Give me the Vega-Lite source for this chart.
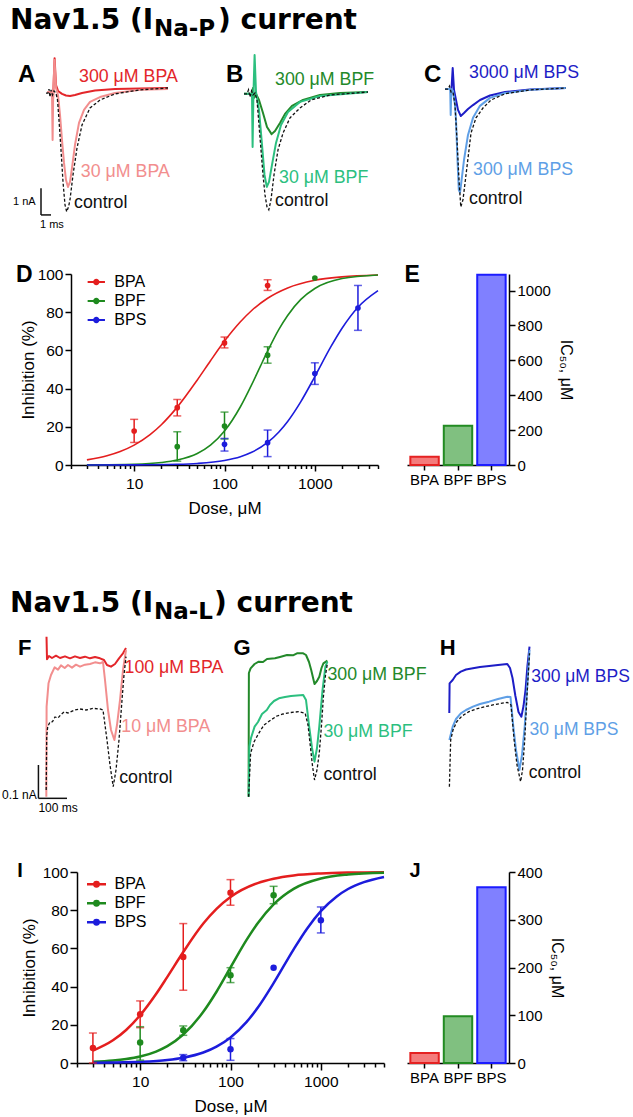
{
"$schema": "https://vega.github.io/schema/vega-lite/v6.json",
"padding": 0,
"background": "white",
"autosize": {"type": "pad"},
"bounds": "flush",
"spacing": 0,
"center": false,
"resolve": {"scale": {"color": "independent", "fill": "independent", "stroke": "independent"}},
"config": {
  "view": {"stroke": null},
  "font": "Liberation Sans",
  "text": {"font": "Liberation Sans"},
  "axis": {"domainColor": "#000", "tickColor": "#000", "labelColor": "#000", "titleColor": "#000", "labelFont": "Liberation Sans", "titleFont": "Liberation Sans", "titleFontWeight": "normal", "grid": false, "domainWidth": 1.5, "tickWidth": 1.5, "labelFontSize": 15.5, "titleFontSize": 17},
  "legend": {"labelFont": "Liberation Sans"}
},
"datasets": {
  "tr": [
    {"p":"A","s":"300 μM BPA","t":0.6,"i":-0.15},{"p":"A","s":"300 μM BPA","t":1.13,"i":-0.15},{"p":"A","s":"300 μM BPA","t":1.2,"i":-0.45},{"p":"A","s":"300 μM BPA","t":1.36,"i":1.12},{"p":"A","s":"300 μM BPA","t":1.5,"i":0.11},{"p":"A","s":"300 μM BPA","t":1.7,"i":-0.11},{"p":"A","s":"300 μM BPA","t":2.1,"i":-0.22},{"p":"A","s":"300 μM BPA","t":2.5,"i":-0.28},{"p":"A","s":"300 μM BPA","t":2.9,"i":-0.30},{"p":"A","s":"300 μM BPA","t":3.4,"i":-0.26},{"p":"A","s":"300 μM BPA","t":4.1,"i":-0.19},{"p":"A","s":"300 μM BPA","t":5.4,"i":-0.09},{"p":"A","s":"300 μM BPA","t":7.4,"i":-0.04},{"p":"A","s":"300 μM BPA","t":9.9,"i":-0.02},{"p":"A","s":"300 μM BPA","t":12.7,"i":0},
    {"p":"A","s":"30 μM BPA","t":0.6,"i":-0.15},{"p":"A","s":"30 μM BPA","t":1.1,"i":-0.15},{"p":"A","s":"30 μM BPA","t":1.16,"i":-1.95},{"p":"A","s":"30 μM BPA","t":1.22,"i":-0.22},{"p":"A","s":"30 μM BPA","t":1.35,"i":1.05},{"p":"A","s":"30 μM BPA","t":1.5,"i":0},{"p":"A","s":"30 μM BPA","t":1.7,"i":-0.26},{"p":"A","s":"30 μM BPA","t":1.9,"i":-1.01},{"p":"A","s":"30 μM BPA","t":2.1,"i":-1.95},{"p":"A","s":"30 μM BPA","t":2.3,"i":-2.81},{"p":"A","s":"30 μM BPA","t":2.5,"i":-3.45},{"p":"A","s":"30 μM BPA","t":2.7,"i":-3.71},{"p":"A","s":"30 μM BPA","t":2.9,"i":-3.52},{"p":"A","s":"30 μM BPA","t":3.1,"i":-3.0},{"p":"A","s":"30 μM BPA","t":3.4,"i":-2.13},{"p":"A","s":"30 μM BPA","t":3.8,"i":-1.31},{"p":"A","s":"30 μM BPA","t":4.3,"i":-0.82},{"p":"A","s":"30 μM BPA","t":4.9,"i":-0.52},{"p":"A","s":"30 μM BPA","t":5.9,"i":-0.34},{"p":"A","s":"30 μM BPA","t":7.4,"i":-0.19},{"p":"A","s":"30 μM BPA","t":9.9,"i":-0.07},{"p":"A","s":"30 μM BPA","t":12.7,"i":-0.04},
    {"p":"A","s":"control","t":0.5,"i":-0.19},{"p":"A","s":"control","t":0.7,"i":-0.19},{"p":"A","s":"control","t":0.8,"i":-0.04},{"p":"A","s":"control","t":0.9,"i":-0.34},{"p":"A","s":"control","t":1.0,"i":-0.07},{"p":"A","s":"control","t":1.15,"i":-0.26},{"p":"A","s":"control","t":1.3,"i":-0.11},{"p":"A","s":"control","t":1.5,"i":-0.19},{"p":"A","s":"control","t":1.65,"i":-0.45},{"p":"A","s":"control","t":1.8,"i":-1.2},{"p":"A","s":"control","t":2.0,"i":-2.32},{"p":"A","s":"control","t":2.2,"i":-3.52},{"p":"A","s":"control","t":2.4,"i":-4.38},{"p":"A","s":"control","t":2.57,"i":-4.64},{"p":"A","s":"control","t":2.75,"i":-4.46},{"p":"A","s":"control","t":2.9,"i":-4.19},{"p":"A","s":"control","t":3.2,"i":-3.26},{"p":"A","s":"control","t":3.6,"i":-2.25},{"p":"A","s":"control","t":4.1,"i":-1.39},{"p":"A","s":"control","t":4.9,"i":-0.75},{"p":"A","s":"control","t":5.9,"i":-0.45},{"p":"A","s":"control","t":7.4,"i":-0.22},{"p":"A","s":"control","t":9.9,"i":-0.07},{"p":"A","s":"control","t":12.7,"i":0},
    {"p":"B","s":"300 μM BPF","t":-0.7,"i":-0.22},{"p":"B","s":"300 μM BPF","t":0.1,"i":-0.22},{"p":"B","s":"300 μM BPF","t":0.2,"i":0},{"p":"B","s":"300 μM BPF","t":0.3,"i":-0.37},{"p":"B","s":"300 μM BPF","t":0.5,"i":-0.22},{"p":"B","s":"300 μM BPF","t":0.8,"i":-0.45},{"p":"B","s":"300 μM BPF","t":1.2,"i":-0.94},{"p":"B","s":"300 μM BPF","t":1.6,"i":-1.46},{"p":"B","s":"300 μM BPF","t":2.06,"i":-1.73},{"p":"B","s":"300 μM BPF","t":2.4,"i":-1.61},{"p":"B","s":"300 μM BPF","t":2.9,"i":-1.31},{"p":"B","s":"300 μM BPF","t":3.4,"i":-0.97},{"p":"B","s":"300 μM BPF","t":4.1,"i":-0.67},{"p":"B","s":"300 μM BPF","t":5.2,"i":-0.45},{"p":"B","s":"300 μM BPF","t":6.9,"i":-0.26},{"p":"B","s":"300 μM BPF","t":8.9,"i":-0.19},{"p":"B","s":"300 μM BPF","t":11.7,"i":-0.15},
    {"p":"B","s":"30 μM BPF","t":-0.7,"i":-0.22},{"p":"B","s":"30 μM BPF","t":0.1,"i":-0.22},{"p":"B","s":"30 μM BPF","t":0.16,"i":-2.21},{"p":"B","s":"30 μM BPF","t":0.24,"i":-0.26},{"p":"B","s":"30 μM BPF","t":0.36,"i":1.24},{"p":"B","s":"30 μM BPF","t":0.5,"i":-0.15},{"p":"B","s":"30 μM BPF","t":0.8,"i":-0.82},{"p":"B","s":"30 μM BPF","t":1.1,"i":-2.13},{"p":"B","s":"30 μM BPF","t":1.35,"i":-3.26},{"p":"B","s":"30 μM BPF","t":1.58,"i":-3.71},{"p":"B","s":"30 μM BPF","t":1.8,"i":-3.52},{"p":"B","s":"30 μM BPF","t":2.1,"i":-2.88},{"p":"B","s":"30 μM BPF","t":2.5,"i":-2.06},{"p":"B","s":"30 μM BPF","t":3.0,"i":-1.39},{"p":"B","s":"30 μM BPF","t":3.7,"i":-0.9},{"p":"B","s":"30 μM BPF","t":4.9,"i":-0.52},{"p":"B","s":"30 μM BPF","t":6.9,"i":-0.3},{"p":"B","s":"30 μM BPF","t":11.7,"i":-0.15},
    {"p":"B","s":"control","t":-0.7,"i":-0.22},{"p":"B","s":"control","t":-0.4,"i":-0.22},{"p":"B","s":"control","t":-0.25,"i":-0.07},{"p":"B","s":"control","t":-0.1,"i":-0.34},{"p":"B","s":"control","t":0.05,"i":-0.11},{"p":"B","s":"control","t":0.2,"i":-0.26},{"p":"B","s":"control","t":0.4,"i":-0.19},{"p":"B","s":"control","t":0.6,"i":-0.45},{"p":"B","s":"control","t":0.8,"i":-1.39},{"p":"B","s":"control","t":1.0,"i":-2.32},{"p":"B","s":"control","t":1.2,"i":-3.26},{"p":"B","s":"control","t":1.4,"i":-4.01},{"p":"B","s":"control","t":1.6,"i":-4.46},{"p":"B","s":"control","t":1.78,"i":-4.57},{"p":"B","s":"control","t":2.0,"i":-4.19},{"p":"B","s":"control","t":2.3,"i":-3.26},{"p":"B","s":"control","t":2.7,"i":-2.32},{"p":"B","s":"control","t":3.2,"i":-1.69},{"p":"B","s":"control","t":3.9,"i":-1.12},{"p":"B","s":"control","t":4.9,"i":-0.75},{"p":"B","s":"control","t":6.0,"i":-0.45},{"p":"B","s":"control","t":7.9,"i":-0.26},{"p":"B","s":"control","t":11.7,"i":-0.15},
    {"p":"C","s":"3000 μM BPS","t":-1.6,"i":-0.04},{"p":"C","s":"3000 μM BPS","t":-0.95,"i":-0.04},{"p":"C","s":"3000 μM BPS","t":-0.83,"i":0.75},{"p":"C","s":"3000 μM BPS","t":-0.7,"i":-0.07},{"p":"C","s":"3000 μM BPS","t":-0.5,"i":-0.45},{"p":"C","s":"3000 μM BPS","t":-0.3,"i":-0.82},{"p":"C","s":"3000 μM BPS","t":-0.02,"i":-1.05},{"p":"C","s":"3000 μM BPS","t":0.3,"i":-0.94},{"p":"C","s":"3000 μM BPS","t":0.7,"i":-0.79},{"p":"C","s":"3000 μM BPS","t":1.2,"i":-0.64},{"p":"C","s":"3000 μM BPS","t":1.9,"i":-0.45},{"p":"C","s":"3000 μM BPS","t":2.9,"i":-0.28},{"p":"C","s":"3000 μM BPS","t":4.4,"i":-0.15},{"p":"C","s":"3000 μM BPS","t":6.9,"i":-0.06},{"p":"C","s":"3000 μM BPS","t":10.5,"i":0},
    {"p":"C","s":"300 μM BPS","t":-1.6,"i":-0.04},{"p":"C","s":"300 μM BPS","t":-1.08,"i":-0.04},{"p":"C","s":"300 μM BPS","t":-1.03,"i":-1.01},{"p":"C","s":"300 μM BPS","t":-0.97,"i":-0.04},{"p":"C","s":"300 μM BPS","t":-0.8,"i":-0.11},{"p":"C","s":"300 μM BPS","t":-0.6,"i":-0.64},{"p":"C","s":"300 μM BPS","t":-0.5,"i":-1.2},{"p":"C","s":"300 μM BPS","t":-0.35,"i":-2.7},{"p":"C","s":"300 μM BPS","t":-0.22,"i":-3.82},{"p":"C","s":"300 μM BPS","t":-0.1,"i":-3.92},{"p":"C","s":"300 μM BPS","t":0.0,"i":-3.63},{"p":"C","s":"300 μM BPS","t":0.3,"i":-2.7},{"p":"C","s":"300 μM BPS","t":0.7,"i":-1.76},{"p":"C","s":"300 μM BPS","t":1.2,"i":-1.12},{"p":"C","s":"300 μM BPS","t":1.9,"i":-0.67},{"p":"C","s":"300 μM BPS","t":2.9,"i":-0.37},{"p":"C","s":"300 μM BPS","t":4.4,"i":-0.19},{"p":"C","s":"300 μM BPS","t":6.9,"i":-0.07},{"p":"C","s":"300 μM BPS","t":10.5,"i":0},
    {"p":"C","s":"control","t":-1.6,"i":-0.04},{"p":"C","s":"control","t":-1.3,"i":-0.04},{"p":"C","s":"control","t":-1.15,"i":0.07},{"p":"C","s":"control","t":-1.0,"i":-0.15},{"p":"C","s":"control","t":-0.8,"i":-0.15},{"p":"C","s":"control","t":-0.6,"i":-0.64},{"p":"C","s":"control","t":-0.4,"i":-1.95},{"p":"C","s":"control","t":-0.2,"i":-3.45},{"p":"C","s":"control","t":-0.02,"i":-4.46},{"p":"C","s":"control","t":0.2,"i":-4.19},{"p":"C","s":"control","t":0.5,"i":-3.26},{"p":"C","s":"control","t":0.8,"i":-2.32},{"p":"C","s":"control","t":1.0,"i":-1.69},{"p":"C","s":"control","t":1.5,"i":-1.12},{"p":"C","s":"control","t":2.2,"i":-0.75},{"p":"C","s":"control","t":3.0,"i":-0.45},{"p":"C","s":"control","t":4.4,"i":-0.22},{"p":"C","s":"control","t":6.9,"i":-0.07},{"p":"C","s":"control","t":10.5,"i":0},
    {"p":"F","s":"100 μM BPA","t":19.3,"i":0.49},{"p":"F","s":"100 μM BPA","t":21,"i":0.422},{"p":"F","s":"100 μM BPA","t":28,"i":0.432},{"p":"F","s":"100 μM BPA","t":38.5,"i":0.426},{"p":"F","s":"100 μM BPA","t":52.5,"i":0.433},{"p":"F","s":"100 μM BPA","t":66.5,"i":0.426},{"p":"F","s":"100 μM BPA","t":84,"i":0.431},{"p":"F","s":"100 μM BPA","t":101.5,"i":0.425},{"p":"F","s":"100 μM BPA","t":119,"i":0.431},{"p":"F","s":"100 μM BPA","t":136.5,"i":0.426},{"p":"F","s":"100 μM BPA","t":154,"i":0.43},{"p":"F","s":"100 μM BPA","t":171.5,"i":0.425},{"p":"F","s":"100 μM BPA","t":189,"i":0.429},{"p":"F","s":"100 μM BPA","t":206.5,"i":0.425},{"p":"F","s":"100 μM BPA","t":220.5,"i":0.42},{"p":"F","s":"100 μM BPA","t":231,"i":0.405},{"p":"F","s":"100 μM BPA","t":245,"i":0.4},{"p":"F","s":"100 μM BPA","t":259,"i":0.408},{"p":"F","s":"100 μM BPA","t":273,"i":0.425},{"p":"F","s":"100 μM BPA","t":287,"i":0.44},{"p":"F","s":"100 μM BPA","t":297.5,"i":0.456},
    {"p":"F","s":"10 μM BPA","t":18.6,"i":0.01},{"p":"F","s":"10 μM BPA","t":19.6,"i":0.28},{"p":"F","s":"10 μM BPA","t":26.3,"i":0.35},{"p":"F","s":"10 μM BPA","t":35,"i":0.375},{"p":"F","s":"10 μM BPA","t":47.6,"i":0.398},{"p":"F","s":"10 μM BPA","t":59.5,"i":0.391},{"p":"F","s":"10 μM BPA","t":70,"i":0.404},{"p":"F","s":"10 μM BPA","t":83,"i":0.396},{"p":"F","s":"10 μM BPA","t":94.5,"i":0.405},{"p":"F","s":"10 μM BPA","t":108.5,"i":0.397},{"p":"F","s":"10 μM BPA","t":122.5,"i":0.406},{"p":"F","s":"10 μM BPA","t":136.5,"i":0.4},{"p":"F","s":"10 μM BPA","t":154,"i":0.406},{"p":"F","s":"10 μM BPA","t":171.5,"i":0.408},{"p":"F","s":"10 μM BPA","t":189,"i":0.413},{"p":"F","s":"10 μM BPA","t":206.5,"i":0.41},{"p":"F","s":"10 μM BPA","t":217,"i":0.414},{"p":"F","s":"10 μM BPA","t":224,"i":0.36},{"p":"F","s":"10 μM BPA","t":234.5,"i":0.27},{"p":"F","s":"10 μM BPA","t":245,"i":0.21},{"p":"F","s":"10 μM BPA","t":256.9,"i":0.18},{"p":"F","s":"10 μM BPA","t":266,"i":0.225},{"p":"F","s":"10 μM BPA","t":276.5,"i":0.3},{"p":"F","s":"10 μM BPA","t":287,"i":0.39},{"p":"F","s":"10 μM BPA","t":297.5,"i":0.45},
    {"p":"F","s":"control","t":18.2,"i":0.03},{"p":"F","s":"control","t":20,"i":0.19},{"p":"F","s":"control","t":23.5,"i":0.22},{"p":"F","s":"control","t":31.5,"i":0.234},{"p":"F","s":"control","t":40.3,"i":0.235},{"p":"F","s":"control","t":49,"i":0.249},{"p":"F","s":"control","t":59.5,"i":0.246},{"p":"F","s":"control","t":68.6,"i":0.255},{"p":"F","s":"control","t":80.5,"i":0.264},{"p":"F","s":"control","t":94.5,"i":0.261},{"p":"F","s":"control","t":118.3,"i":0.27},{"p":"F","s":"control","t":136.5,"i":0.273},{"p":"F","s":"control","t":157.5,"i":0.27},{"p":"F","s":"control","t":182,"i":0.275},{"p":"F","s":"control","t":206.5,"i":0.273},{"p":"F","s":"control","t":217,"i":0.27},{"p":"F","s":"control","t":224,"i":0.225},{"p":"F","s":"control","t":231,"i":0.18},{"p":"F","s":"control","t":241.5,"i":0.105},{"p":"F","s":"control","t":252.7,"i":0.04},{"p":"F","s":"control","t":262.5,"i":0.09},{"p":"F","s":"control","t":273,"i":0.18},{"p":"F","s":"control","t":283.5,"i":0.3},{"p":"F","s":"control","t":290.5,"i":0.375},{"p":"F","s":"control","t":297.5,"i":0.43},
    {"p":"G","s":"300 μM BPF","t":-8.4,"i":0.01},{"p":"G","s":"300 μM BPF","t":-7.4,"i":0.381},{"p":"G","s":"300 μM BPF","t":-1.4,"i":0.395},{"p":"G","s":"300 μM BPF","t":12.6,"i":0.408},{"p":"G","s":"300 μM BPF","t":27,"i":0.415},{"p":"G","s":"300 μM BPF","t":42,"i":0.414},{"p":"G","s":"300 μM BPF","t":56,"i":0.423},{"p":"G","s":"300 μM BPF","t":83.7,"i":0.425},{"p":"G","s":"300 μM BPF","t":101.5,"i":0.429},{"p":"G","s":"300 μM BPF","t":126,"i":0.435},{"p":"G","s":"300 μM BPF","t":147,"i":0.434},{"p":"G","s":"300 μM BPF","t":161,"i":0.44},{"p":"G","s":"300 μM BPF","t":182.7,"i":0.44},{"p":"G","s":"300 μM BPF","t":192.5,"i":0.435},{"p":"G","s":"300 μM BPF","t":203,"i":0.414},{"p":"G","s":"300 μM BPF","t":210.7,"i":0.39},{"p":"G","s":"300 μM BPF","t":222.3,"i":0.348},{"p":"G","s":"300 μM BPF","t":231,"i":0.357},{"p":"G","s":"300 μM BPF","t":239,"i":0.37},{"p":"G","s":"300 μM BPF","t":246.8,"i":0.396},{"p":"G","s":"300 μM BPF","t":253.4,"i":0.41},{"p":"G","s":"300 μM BPF","t":267.4,"i":0.418},
    {"p":"G","s":"30 μM BPF","t":-8.1,"i":0.01},{"p":"G","s":"30 μM BPF","t":-5.6,"i":0.16},{"p":"G","s":"30 μM BPF","t":0,"i":0.186},{"p":"G","s":"30 μM BPF","t":12.6,"i":0.22},{"p":"G","s":"30 μM BPF","t":24.5,"i":0.234},{"p":"G","s":"30 μM BPF","t":38.5,"i":0.258},{"p":"G","s":"30 μM BPF","t":55.3,"i":0.27},{"p":"G","s":"30 μM BPF","t":66.5,"i":0.285},{"p":"G","s":"30 μM BPF","t":80.5,"i":0.297},{"p":"G","s":"30 μM BPF","t":97.7,"i":0.305},{"p":"G","s":"30 μM BPF","t":119,"i":0.309},{"p":"G","s":"30 μM BPF","t":140,"i":0.312},{"p":"G","s":"30 μM BPF","t":161,"i":0.3135},{"p":"G","s":"30 μM BPF","t":182.7,"i":0.315},{"p":"G","s":"30 μM BPF","t":192.5,"i":0.3},{"p":"G","s":"30 μM BPF","t":203.7,"i":0.22},{"p":"G","s":"30 μM BPF","t":213.5,"i":0.156},{"p":"G","s":"30 μM BPF","t":222.3,"i":0.115},{"p":"G","s":"30 μM BPF","t":231,"i":0.156},{"p":"G","s":"30 μM BPF","t":239,"i":0.22},{"p":"G","s":"30 μM BPF","t":250.3,"i":0.33},{"p":"G","s":"30 μM BPF","t":260.4,"i":0.4},{"p":"G","s":"30 μM BPF","t":267.4,"i":0.415},
    {"p":"G","s":"control","t":-8.4,"i":0.01},{"p":"G","s":"control","t":-1.4,"i":0.14},{"p":"G","s":"control","t":10.5,"i":0.174},{"p":"G","s":"control","t":27,"i":0.2},{"p":"G","s":"control","t":45.5,"i":0.225},{"p":"G","s":"control","t":69.3,"i":0.24},{"p":"G","s":"control","t":91,"i":0.252},{"p":"G","s":"control","t":112,"i":0.258},{"p":"G","s":"control","t":140,"i":0.2625},{"p":"G","s":"control","t":168,"i":0.265},{"p":"G","s":"control","t":189.7,"i":0.26},{"p":"G","s":"control","t":199.5,"i":0.225},{"p":"G","s":"control","t":207.9,"i":0.16},{"p":"G","s":"control","t":215.3,"i":0.102},{"p":"G","s":"control","t":222.3,"i":0.06},{"p":"G","s":"control","t":231,"i":0.09},{"p":"G","s":"control","t":239,"i":0.141},{"p":"G","s":"control","t":246.8,"i":0.225},{"p":"G","s":"control","t":253.4,"i":0.31},{"p":"G","s":"control","t":260.8,"i":0.375},{"p":"G","s":"control","t":267.4,"i":0.41},
    {"p":"H","s":"300 μM BPS","t":-41,"i":0.261},{"p":"H","s":"300 μM BPS","t":-39.9,"i":0.35},{"p":"H","s":"300 μM BPS","t":-29.1,"i":0.36},{"p":"H","s":"300 μM BPS","t":-17.5,"i":0.375},{"p":"H","s":"300 μM BPS","t":-0.7,"i":0.385},{"p":"H","s":"300 μM BPS","t":17.5,"i":0.3915},{"p":"H","s":"300 μM BPS","t":41.7,"i":0.395},{"p":"H","s":"300 μM BPS","t":66.5,"i":0.399},{"p":"H","s":"300 μM BPS","t":98.4,"i":0.402},{"p":"H","s":"300 μM BPS","t":129.5,"i":0.405},{"p":"H","s":"300 μM BPS","t":162.1,"i":0.408},{"p":"H","s":"300 μM BPS","t":171.5,"i":0.396},{"p":"H","s":"300 μM BPS","t":180.3,"i":0.366},{"p":"H","s":"300 μM BPS","t":190.4,"i":0.312},{"p":"H","s":"300 μM BPS","t":201.3,"i":0.264},{"p":"H","s":"300 μM BPS","t":211.4,"i":0.25},{"p":"H","s":"300 μM BPS","t":218.8,"i":0.282},{"p":"H","s":"300 μM BPS","t":225.8,"i":0.33},{"p":"H","s":"300 μM BPS","t":232.8,"i":0.405},{"p":"H","s":"300 μM BPS","t":239.8,"i":0.46},
    {"p":"H","s":"30 μM BPS","t":-40.6,"i":0.18},{"p":"H","s":"30 μM BPS","t":-29.1,"i":0.22},{"p":"H","s":"30 μM BPS","t":-17.5,"i":0.243},{"p":"H","s":"30 μM BPS","t":-0.7,"i":0.26},{"p":"H","s":"30 μM BPS","t":17.5,"i":0.27},{"p":"H","s":"30 μM BPS","t":41.7,"i":0.28},{"p":"H","s":"30 μM BPS","t":66.5,"i":0.288},{"p":"H","s":"30 μM BPS","t":98.4,"i":0.295},{"p":"H","s":"30 μM BPS","t":129.5,"i":0.303},{"p":"H","s":"30 μM BPS","t":162.1,"i":0.31},{"p":"H","s":"30 μM BPS","t":173.3,"i":0.309},{"p":"H","s":"30 μM BPS","t":183.1,"i":0.22},{"p":"H","s":"30 μM BPS","t":192.5,"i":0.15},{"p":"H","s":"30 μM BPS","t":204.4,"i":0.09},{"p":"H","s":"30 μM BPS","t":213.5,"i":0.135},{"p":"H","s":"30 μM BPS","t":223,"i":0.22},{"p":"H","s":"30 μM BPS","t":231,"i":0.33},{"p":"H","s":"30 μM BPS","t":239.8,"i":0.45},
    {"p":"H","s":"control","t":-40.6,"i":0.04},{"p":"H","s":"control","t":-36.1,"i":0.18},{"p":"H","s":"control","t":-28,"i":0.21},{"p":"H","s":"control","t":-14.7,"i":0.235},{"p":"H","s":"control","t":3.5,"i":0.252},{"p":"H","s":"control","t":27.7,"i":0.265},{"p":"H","s":"control","t":52.5,"i":0.273},{"p":"H","s":"control","t":84,"i":0.28},{"p":"H","s":"control","t":119,"i":0.2865},{"p":"H","s":"control","t":162.1,"i":0.293},{"p":"H","s":"control","t":175,"i":0.285},{"p":"H","s":"control","t":185.9,"i":0.18},{"p":"H","s":"control","t":196,"i":0.105},{"p":"H","s":"control","t":208.6,"i":0.055},{"p":"H","s":"control","t":215.3,"i":0.09},{"p":"H","s":"control","t":223,"i":0.18},{"p":"H","s":"control","t":231,"i":0.315},{"p":"H","s":"control","t":239.8,"i":0.44}
  ],
  "lb": [
    {"p":"A","k":"lab","s":"300 μM BPA","t":3.8,"i":0.24},{"p":"A","k":"lab","s":"30 μM BPA","t":3.98,"i":-3.32},{"p":"A","k":"lab","s":"control","t":3.3,"i":-4.49},{"p":"A","k":"let","s":"A","t":-2.3,"i":0.225},{"p":"A","k":"sc","s":"1 nA","t":-2.8,"i":-4.38},{"p":"A","k":"sc","s":"1 ms","t":-0.1,"i":-5.25},
    {"p":"B","k":"lab","s":"300 μM BPF","t":2.4,"i":0.11},{"p":"B","k":"lab","s":"30 μM BPF","t":2.8,"i":-3.57},{"p":"B","k":"lab","s":"control","t":2.4,"i":-4.42},{"p":"B","k":"let","s":"B","t":-2.5,"i":0.225},
    {"p":"C","k":"lab","s":"3000 μM BPS","t":0.8,"i":0.36},{"p":"C","k":"lab","s":"300 μM BPS","t":1.2,"i":-3.26},{"p":"C","k":"lab","s":"control","t":0.8,"i":-4.34},{"p":"C","k":"let","s":"C","t":-3.7,"i":0.225},
    {"p":"F","k":"lab","s":"100 μM BPA","t":292.3,"i":0.38},{"p":"F","k":"lab","s":"10 μM BPA","t":281,"i":0.205},{"p":"F","k":"lab","s":"control","t":273.7,"i":0.05},{"p":"F","k":"let","s":"F","t":-80.5,"i":0.435},{"p":"F","k":"sc","s":"0.1 nA","t":-136.5,"i":0.002},{"p":"F","k":"sc","s":"100 ms","t":-9.1,"i":-0.035},
    {"p":"G","k":"lab","s":"300 μM BPF","t":267.4,"i":0.36},{"p":"G","k":"lab","s":"30 μM BPF","t":253.4,"i":0.19},{"p":"G","k":"lab","s":"control","t":253.4,"i":0.06},{"p":"G","k":"let","s":"G","t":-60.9,"i":0.435},
    {"p":"H","k":"lab","s":"300 μM BPS","t":245.7,"i":0.355},{"p":"H","k":"lab","s":"30 μM BPS","t":239.8,"i":0.195},{"p":"H","k":"lab","s":"control","t":237,"i":0.065},{"p":"H","k":"let","s":"H","t":-74.2,"i":0.435}
  ],
  "sb": [
    {"p":"A","t":0,"t2":0,"i":-3.76,"i2":-4.76},{"p":"A","t":0,"t2":1,"i":-4.76,"i2":-4.76},
    {"p":"F","t":-9,"t2":-9,"i":0.005,"i2":0.105},{"p":"F","t":-9,"t2":91,"i":0.005,"i2":0.005}
  ],
  "cv": [
    {"p":"D","s":"BPA","dose":3,"pct":2.67},{"p":"D","s":"BPA","dose":5,"pct":4.83},{"p":"D","s":"BPA","dose":7,"pct":7.06},{"p":"D","s":"BPA","dose":10,"pct":10.4},{"p":"D","s":"BPA","dose":15,"pct":15.9},{"p":"D","s":"BPA","dose":20,"pct":21.1},{"p":"D","s":"BPA","dose":30,"pct":30.3},{"p":"D","s":"BPA","dose":50,"pct":44.5},{"p":"D","s":"BPA","dose":70,"pct":54.6},{"p":"D","s":"BPA","dose":100,"pct":64.9},{"p":"D","s":"BPA","dose":150,"pct":75.0},{"p":"D","s":"BPA","dose":200,"pct":80.9},{"p":"D","s":"BPA","dose":300,"pct":87.3},{"p":"D","s":"BPA","dose":500,"pct":92.7},{"p":"D","s":"BPA","dose":1000,"pct":96.7},{"p":"D","s":"BPA","dose":2000,"pct":98.5},{"p":"D","s":"BPA","dose":5000,"pct":99.5},
    {"p":"D","s":"BPF","dose":3,"pct":0.05},{"p":"D","s":"BPF","dose":10,"pct":0.38},{"p":"D","s":"BPF","dose":20,"pct":1.28},{"p":"D","s":"BPF","dose":30,"pct":2.6},{"p":"D","s":"BPF","dose":50,"pct":6.04},{"p":"D","s":"BPF","dose":70,"pct":10.4},{"p":"D","s":"BPF","dose":100,"pct":17.8},{"p":"D","s":"BPF","dose":150,"pct":30.5},{"p":"D","s":"BPF","dose":200,"pct":42.1},{"p":"D","s":"BPF","dose":250,"pct":51.8},{"p":"D","s":"BPF","dose":300,"pct":59.6},{"p":"D","s":"BPF","dose":400,"pct":71.0},{"p":"D","s":"BPF","dose":500,"pct":78.3},{"p":"D","s":"BPF","dose":700,"pct":86.7},{"p":"D","s":"BPF","dose":1000,"pct":92.4},{"p":"D","s":"BPF","dose":2000,"pct":97.6},{"p":"D","s":"BPF","dose":5000,"pct":99.5},
    {"p":"D","s":"BPS","dose":3,"pct":0.01},{"p":"D","s":"BPS","dose":10,"pct":0.07},{"p":"D","s":"BPS","dose":30,"pct":0.37},{"p":"D","s":"BPS","dose":50,"pct":0.82},{"p":"D","s":"BPS","dose":100,"pct":2.38},{"p":"D","s":"BPS","dose":150,"pct":4.36},{"p":"D","s":"BPS","dose":200,"pct":6.65},{"p":"D","s":"BPS","dose":300,"pct":11.8},{"p":"D","s":"BPS","dose":400,"pct":17.3},{"p":"D","s":"BPS","dose":500,"pct":22.8},{"p":"D","s":"BPS","dose":700,"pct":33.2},{"p":"D","s":"BPS","dose":1000,"pct":46.3},{"p":"D","s":"BPS","dose":1500,"pct":61.8},{"p":"D","s":"BPS","dose":2000,"pct":71.6},{"p":"D","s":"BPS","dose":3000,"pct":82.6},{"p":"D","s":"BPS","dose":5000,"pct":91.3},
    {"p":"I","s":"BPA","dose":3,"pct":6.5},{"p":"I","s":"BPA","dose":5,"pct":11.9},{"p":"I","s":"BPA","dose":7,"pct":17.3},{"p":"I","s":"BPA","dose":10,"pct":25.0},{"p":"I","s":"BPA","dose":15,"pct":36.1},{"p":"I","s":"BPA","dose":20,"pct":45.1},{"p":"I","s":"BPA","dose":30,"pct":58.1},{"p":"I","s":"BPA","dose":50,"pct":73.0},{"p":"I","s":"BPA","dose":70,"pct":80.7},{"p":"I","s":"BPA","dose":100,"pct":86.9},{"p":"I","s":"BPA","dose":200,"pct":94.2},{"p":"I","s":"BPA","dose":300,"pct":96.5},{"p":"I","s":"BPA","dose":500,"pct":98.2},{"p":"I","s":"BPA","dose":1000,"pct":99.25},{"p":"I","s":"BPA","dose":2000,"pct":99.7},{"p":"I","s":"BPA","dose":5000,"pct":99.9},
    {"p":"I","s":"BPF","dose":3,"pct":0.62},{"p":"I","s":"BPF","dose":5,"pct":1.28},{"p":"I","s":"BPF","dose":7,"pct":2.07},{"p":"I","s":"BPF","dose":10,"pct":3.4},{"p":"I","s":"BPF","dose":15,"pct":6.0},{"p":"I","s":"BPF","dose":20,"pct":8.8},{"p":"I","s":"BPF","dose":30,"pct":14.9},{"p":"I","s":"BPF","dose":50,"pct":26.8},{"p":"I","s":"BPF","dose":70,"pct":37.3},{"p":"I","s":"BPF","dose":100,"pct":50.0},{"p":"I","s":"BPF","dose":150,"pct":64.3},{"p":"I","s":"BPF","dose":200,"pct":73.2},{"p":"I","s":"BPF","dose":300,"pct":83.1},{"p":"I","s":"BPF","dose":500,"pct":91.2},{"p":"I","s":"BPF","dose":1000,"pct":96.6},{"p":"I","s":"BPF","dose":2000,"pct":98.7},{"p":"I","s":"BPF","dose":5000,"pct":99.66},
    {"p":"I","s":"BPS","dose":3,"pct":0.11},{"p":"I","s":"BPS","dose":5,"pct":0.23},{"p":"I","s":"BPS","dose":10,"pct":0.61},{"p":"I","s":"BPS","dose":20,"pct":1.6},{"p":"I","s":"BPS","dose":30,"pct":2.8},{"p":"I","s":"BPS","dose":50,"pct":5.5},{"p":"I","s":"BPS","dose":70,"pct":8.6},{"p":"I","s":"BPS","dose":100,"pct":13.4},{"p":"I","s":"BPS","dose":150,"pct":21.4},{"p":"I","s":"BPS","dose":200,"pct":28.9},{"p":"I","s":"BPS","dose":300,"pct":41.8},{"p":"I","s":"BPS","dose":500,"pct":59.5},{"p":"I","s":"BPS","dose":700,"pct":70.2},{"p":"I","s":"BPS","dose":1000,"pct":79.5},{"p":"I","s":"BPS","dose":1500,"pct":87.2},{"p":"I","s":"BPS","dose":2000,"pct":91.1},{"p":"I","s":"BPS","dose":3000,"pct":94.7},{"p":"I","s":"BPS","dose":5000,"pct":97.4}
  ],
  "pt": [
    {"p":"D","s":"BPA","dose":10,"m":17.8,"lo":11.8,"hi":23.9},{"p":"D","s":"BPA","dose":30,"m":30.0,"lo":25.7,"hi":34.3},{"p":"D","s":"BPA","dose":100,"m":63.9,"lo":61.3,"hi":67.0},{"p":"D","s":"BPA","dose":300,"m":94.0,"lo":91.4,"hi":97.0},
    {"p":"D","s":"BPF","dose":30,"m":9.6,"lo":2.0,"hi":17.4},{"p":"D","s":"BPF","dose":100,"m":20.4,"lo":13.6,"hi":27.7},{"p":"D","s":"BPF","dose":300,"m":57.5,"lo":53.3,"hi":61.9},{"p":"D","s":"BPF","dose":1000,"m":97.9,"lo":97.4,"hi":98.4},
    {"p":"D","s":"BPS","dose":100,"m":10.8,"lo":7.3,"hi":13.9},{"p":"D","s":"BPS","dose":300,"m":11.7,"lo":4.4,"hi":18.3},{"p":"D","s":"BPS","dose":1000,"m":47.9,"lo":42.2,"hi":53.5},{"p":"D","s":"BPS","dose":3000,"m":82.2,"lo":70.5,"hi":94.0},
    {"p":"I","s":"BPA","dose":3,"m":7.8,"lo":0,"hi":15.7},{"p":"I","s":"BPA","dose":10,"m":25.5,"lo":18.5,"hi":32.5},{"p":"I","s":"BPA","dose":30,"m":55.5,"lo":38.1,"hi":73.0},{"p":"I","s":"BPA","dose":100,"m":89.2,"lo":82.6,"hi":96.0},
    {"p":"I","s":"BPF","dose":10,"m":10.7,"lo":1.5,"hi":19.0},{"p":"I","s":"BPF","dose":30,"m":17.1,"lo":14.5,"hi":19.4},{"p":"I","s":"BPF","dose":100,"m":45.9,"lo":42.1,"hi":49.9},{"p":"I","s":"BPF","dose":300,"m":87.8,"lo":83.4,"hi":92.5},
    {"p":"I","s":"BPS","dose":30,"m":2.8,"lo":1.2,"hi":4.4},{"p":"I","s":"BPS","dose":100,"m":7.2,"lo":1.4,"hi":12.8},{"p":"I","s":"BPS","dose":300,"m":49.9,"lo":49.9,"hi":49.9},{"p":"I","s":"BPS","dose":1000,"m":74.7,"lo":68.1,"hi":81.7}
  ],
  "ic": [
    {"p":"E","c":"BPA","v":48},{"p":"E","c":"BPF","v":225},{"p":"E","c":"BPS","v":1090},
    {"p":"J","c":"BPA","v":21},{"p":"J","c":"BPF","v":98},{"p":"J","c":"BPS","v":368}
  ]
},
"vconcat": [
  {"width": 400, "height": 45, "data": {"values": [{}]}, "layer": [
    {"mark": {"type": "text", "text": "Nav1.5 (I", "x": 10, "y": 28.5, "align": "left", "baseline": "alphabetic", "font": "DejaVu Sans", "fontWeight": "bold", "fontSize": 28, "color": "#000"}, "encoding": {}},
    {"mark": {"type": "text", "text": "Na-P", "x": 154, "y": 36, "align": "left", "baseline": "alphabetic", "font": "DejaVu Sans", "fontWeight": "bold", "fontSize": 23, "color": "#000"}, "encoding": {}},
    {"mark": {"type": "text", "text": ") current", "x": 218, "y": 28.5, "align": "left", "baseline": "alphabetic", "font": "DejaVu Sans", "fontWeight": "bold", "fontSize": 28, "color": "#000"}, "encoding": {}}
  ]},

  {"width": 633, "height": 229,
   "resolve": {"scale": {"x": "independent", "color": "independent"}},
   "layer": [
    {"encoding": {
       "x": {"field": "t", "type": "quantitative", "scale": {"domain": [-4.1, 16.9], "range": [0, 210], "nice": false, "zero": false}, "axis": null},
       "y": {"field": "i", "type": "quantitative", "scale": {"domain": [-6.975, 1.6125], "nice": false, "zero": false}, "axis": null}},
     "layer": [
       {"data": {"name": "tr"}, "transform": [{"filter": "datum.p == 'A' && datum.s != 'control'"}], "mark": {"type": "line", "strokeWidth": 2, "strokeJoin": "round"}, "encoding": {"color": {"field": "s", "type": "nominal", "scale": {"domain": ["300 μM BPA", "30 μM BPA", "control"], "range": ["#e3262a", "#f28e8e", "#111111"]}, "legend": null}}},
       {"data": {"name": "tr"}, "transform": [{"filter": "datum.p == 'A' && datum.s == 'control'"}], "mark": {"type": "line", "strokeWidth": 1.3, "strokeDash": [3, 2], "color": "#111111"}, "encoding": {}},
       {"data": {"name": "sb"}, "transform": [{"filter": "datum.p == 'A'"}], "mark": {"type": "rule", "strokeWidth": 1.5, "color": "#111111"}, "encoding": {"x2": {"field": "t2"}, "y2": {"field": "i2"}}},
       {"data": {"name": "lb"}, "transform": [{"filter": "datum.p == 'A' && datum.k == 'lab'"}], "mark": {"type": "text", "align": "left", "baseline": "alphabetic", "fontSize": 17.8}, "encoding": {"text": {"field": "s"}, "color": {"field": "s", "type": "nominal", "legend": null}}},
       {"data": {"name": "lb"}, "transform": [{"filter": "datum.p == 'A' && datum.k == 'let'"}], "mark": {"type": "text", "align": "left", "baseline": "alphabetic", "fontSize": 24, "fontWeight": "bold", "color": "#000"}, "encoding": {"text": {"field": "s"}}},
       {"data": {"name": "lb"}, "transform": [{"filter": "datum.p == 'A' && datum.k == 'sc'"}], "mark": {"type": "text", "align": "left", "baseline": "alphabetic", "fontSize": 11, "color": "#000"}, "encoding": {"text": {"field": "s"}}}
     ]},
    {"encoding": {
       "x": {"field": "t", "type": "quantitative", "scale": {"domain": [-4.1, 16.9], "range": [210, 420], "nice": false, "zero": false}, "axis": null},
       "y": {"field": "i", "type": "quantitative", "scale": {"domain": [-6.975, 1.6125], "nice": false, "zero": false}, "axis": null}},
     "layer": [
       {"data": {"name": "tr"}, "transform": [{"filter": "datum.p == 'B' && datum.s != 'control'"}], "mark": {"type": "line", "strokeWidth": 2, "strokeJoin": "round"}, "encoding": {"color": {"field": "s", "type": "nominal", "scale": {"domain": ["300 μM BPF", "30 μM BPF", "control"], "range": ["#23892a", "#2cbf7f", "#111111"]}, "legend": null}}},
       {"data": {"name": "tr"}, "transform": [{"filter": "datum.p == 'B' && datum.s == 'control'"}], "mark": {"type": "line", "strokeWidth": 1.3, "strokeDash": [3, 2], "color": "#111111"}, "encoding": {}},
       {"data": {"name": "lb"}, "transform": [{"filter": "datum.p == 'B' && datum.k == 'lab'"}], "mark": {"type": "text", "align": "left", "baseline": "alphabetic", "fontSize": 17.8}, "encoding": {"text": {"field": "s"}, "color": {"field": "s", "type": "nominal", "legend": null}}},
       {"data": {"name": "lb"}, "transform": [{"filter": "datum.p == 'B' && datum.k == 'let'"}], "mark": {"type": "text", "align": "left", "baseline": "alphabetic", "fontSize": 24, "fontWeight": "bold", "color": "#000"}, "encoding": {"text": {"field": "s"}}}
     ]},
    {"encoding": {
       "x": {"field": "t", "type": "quantitative", "scale": {"domain": [-4.1, 17.1], "range": [420, 632], "nice": false, "zero": false}, "axis": null},
       "y": {"field": "i", "type": "quantitative", "scale": {"domain": [-6.975, 1.6125], "nice": false, "zero": false}, "axis": null}},
     "layer": [
       {"data": {"name": "tr"}, "transform": [{"filter": "datum.p == 'C' && datum.s != 'control'"}], "mark": {"type": "line", "strokeWidth": 2, "strokeJoin": "round"}, "encoding": {"color": {"field": "s", "type": "nominal", "scale": {"domain": ["3000 μM BPS", "300 μM BPS", "control"], "range": ["#1d1dc6", "#5f9fe6", "#111111"]}, "legend": null}}},
       {"data": {"name": "tr"}, "transform": [{"filter": "datum.p == 'C' && datum.s == 'control'"}], "mark": {"type": "line", "strokeWidth": 1.3, "strokeDash": [3, 2], "color": "#111111"}, "encoding": {}},
       {"data": {"name": "lb"}, "transform": [{"filter": "datum.p == 'C' && datum.k == 'lab'"}], "mark": {"type": "text", "align": "left", "baseline": "alphabetic", "fontSize": 17.8}, "encoding": {"text": {"field": "s"}, "color": {"field": "s", "type": "nominal", "legend": null}}},
       {"data": {"name": "lb"}, "transform": [{"filter": "datum.p == 'C' && datum.k == 'let'"}], "mark": {"type": "text", "align": "left", "baseline": "alphabetic", "fontSize": 24, "fontWeight": "bold", "color": "#000"}, "encoding": {"text": {"field": "s"}}}
     ]}
   ]},

  {"width": 509, "height": 191,
   "resolve": {"scale": {"x": "independent", "y": "independent", "color": "independent", "fill": "independent", "stroke": "independent"}, "axis": {"x": "independent", "y": "independent"}},
   "layer": [
     {"data": {"name": "cv"}, "transform": [{"filter": "datum.p == 'D'"}], "mark": {"type": "line", "strokeWidth": 1.6, "interpolate": "monotone"},
      "encoding": {
        "x": {"field": "dose", "type": "quantitative", "scale": {"type": "log", "domain": [2, 5000], "range": [71, 378], "nice": false},
              "axis": {"title": "Dose, μM", "values": [2,3,4,5,6,7,8,9,10,20,30,40,50,60,70,80,90,100,200,300,400,500,600,700,800,900,1000,2000,3000,4000,5000], "labelExpr": "datum.value == 10 || datum.value == 100 || datum.value == 1000 ? format(datum.value, 'd') : ''", "tickSize": {"condition": {"test": "datum.value == 10 || datum.value == 100 || datum.value == 1000", "value": 6}, "value": 3.5}, "labelPadding": 5, "titlePadding": 9, "labelOverlap": false, "labelFlush": false}},
        "y": {"field": "pct", "type": "quantitative", "scale": {"domain": [0, 100], "nice": false},
              "axis": {"title": "Inhibition (%)", "offset": -71, "values": [0,20,40,60,80,100], "tickSize": 6, "labelPadding": 2, "titlePadding": 0}},
        "color": {"field": "s", "type": "nominal", "scale": {"domain": ["BPA", "BPF", "BPS"], "range": ["#e41e1e", "#1e8a1e", "#1c1cdc"]},
                  "legend": {"orient": "none", "legendX": 86.3, "legendY": -2, "title": null, "symbolType": "M-1,0H1M-0.25,0A0.25,0.25,0,1,1,0.25,0A0.25,0.25,0,1,1,-0.25,0M-0.1,0A0.1,0.1,0,1,1,0.1,0A0.1,0.1,0,1,1,-0.1,0", "symbolSize": 300, "symbolStrokeWidth": 2, "labelFontSize": 16, "labelColor": "#000", "labelOffset": 8, "rowPadding": 1, "padding": 0}}
      }},
     {"data": {"name": "pt"}, "transform": [{"filter": "datum.p == 'D'"}], "mark": {"type": "rule", "strokeWidth": 1.5},
      "encoding": {"x": {"field": "dose", "type": "quantitative", "scale": {"type": "log", "domain": [2, 5000], "range": [71, 378], "nice": false}, "axis": null}, "y": {"field": "lo", "type": "quantitative", "scale": {"domain": [0, 100], "nice": false}, "axis": null}, "y2": {"field": "hi"}, "color": {"field": "s", "type": "nominal", "scale": {"domain": ["BPA", "BPF", "BPS"], "range": ["#e41e1e", "#1e8a1e", "#1c1cdc"]}, "legend": null}}},
     {"data": {"name": "pt"}, "transform": [{"filter": "datum.p == 'D' && datum.hi - datum.lo > 2"}], "mark": {"type": "tick", "orient": "horizontal", "size": 8, "thickness": 1.5},
      "encoding": {"x": {"field": "dose", "type": "quantitative", "scale": {"type": "log", "domain": [2, 5000], "range": [71, 378], "nice": false}, "axis": null}, "y": {"field": "lo", "type": "quantitative", "scale": {"domain": [0, 100], "nice": false}, "axis": null}, "color": {"field": "s", "type": "nominal", "scale": {"domain": ["BPA", "BPF", "BPS"], "range": ["#e41e1e", "#1e8a1e", "#1c1cdc"]}, "legend": null}}},
     {"data": {"name": "pt"}, "transform": [{"filter": "datum.p == 'D' && datum.hi - datum.lo > 2"}], "mark": {"type": "tick", "orient": "horizontal", "size": 8, "thickness": 1.5},
      "encoding": {"x": {"field": "dose", "type": "quantitative", "scale": {"type": "log", "domain": [2, 5000], "range": [71, 378], "nice": false}, "axis": null}, "y": {"field": "hi", "type": "quantitative", "scale": {"domain": [0, 100], "nice": false}, "axis": null}, "color": {"field": "s", "type": "nominal", "scale": {"domain": ["BPA", "BPF", "BPS"], "range": ["#e41e1e", "#1e8a1e", "#1c1cdc"]}, "legend": null}}},
     {"data": {"name": "pt"}, "transform": [{"filter": "datum.p == 'D'"}], "mark": {"type": "point", "filled": true, "shape": "circle", "size": 32, "opacity": 1},
      "encoding": {"x": {"field": "dose", "type": "quantitative", "scale": {"type": "log", "domain": [2, 5000], "range": [71, 378], "nice": false}, "axis": null}, "y": {"field": "m", "type": "quantitative", "scale": {"domain": [0, 100], "nice": false}, "axis": null}, "color": {"field": "s", "type": "nominal", "scale": {"domain": ["BPA", "BPF", "BPS"], "range": ["#e41e1e", "#1e8a1e", "#1c1cdc"]}, "legend": null}}},
     {"data": {"values": [{"dose": 0.492, "pct": 96}]}, "mark": {"type": "text", "text": "D", "align": "left", "baseline": "alphabetic", "fontSize": 23, "fontWeight": "bold", "color": "#000"},
      "encoding": {"x": {"field": "dose", "type": "quantitative", "scale": {"type": "log", "domain": [2, 5000], "range": [71, 378], "nice": false}, "axis": null}, "y": {"field": "pct", "type": "quantitative", "scale": {"domain": [0, 100], "nice": false}, "axis": null}}},
     {"data": {"name": "ic"}, "transform": [{"filter": "datum.p == 'E'"}], "mark": {"type": "bar", "strokeWidth": 2},
      "encoding": {
        "x": {"field": "c", "type": "nominal", "sort": null, "scale": {"domain": ["BPA", "BPF", "BPS"], "range": [407, 509], "paddingInner": 0.15, "paddingOuter": 0.1}, "axis": {"orient": "bottom", "title": null, "labelAngle": 0, "tickSize": 5, "labelPadding": 2, "labelFontSize": 15}},
        "y": {"field": "v", "type": "quantitative", "scale": {"domain": [0, 1095], "nice": false}, "axis": {"orient": "right", "title": "IC₅₀, μM", "values": [0,200,400,600,800,1000], "format": "d", "tickSize": 6, "labelPadding": 2, "labelFontSize": 15, "titleFontSize": 16, "titlePadding": 7}},
        "fill": {"field": "c", "type": "nominal", "scale": {"domain": ["BPA", "BPF", "BPS"], "range": ["#f47c7c", "#80c080", "#8080ff"]}, "legend": null},
        "stroke": {"field": "c", "type": "nominal", "scale": {"domain": ["BPA", "BPF", "BPS"], "range": ["#e52222", "#228b22", "#1c1cff"]}, "legend": null}
      }},
     {"data": {"values": [{"c": "BPA", "v": 1051}]}, "mark": {"type": "text", "text": "E", "dx": -19.5, "align": "left", "baseline": "alphabetic", "fontSize": 23, "fontWeight": "bold", "color": "#000"},
      "encoding": {"x": {"field": "c", "type": "nominal", "scale": {"domain": ["BPA", "BPF", "BPS"], "range": [407, 509], "paddingInner": 0.15, "paddingOuter": 0.1}, "axis": null}, "y": {"field": "v", "type": "quantitative", "scale": {"domain": [0, 1095], "nice": false}, "axis": null}}}
   ]},

  {"width": 400, "height": 160, "data": {"values": [{}]}, "layer": [
    {"mark": {"type": "text", "text": "Nav1.5 (I", "x": 10, "y": 146.5, "align": "left", "baseline": "alphabetic", "font": "DejaVu Sans", "fontWeight": "bold", "fontSize": 28, "color": "#000"}, "encoding": {}},
    {"mark": {"type": "text", "text": "Na-L", "x": 154, "y": 154.3, "align": "left", "baseline": "alphabetic", "font": "DejaVu Sans", "fontWeight": "bold", "fontSize": 23, "color": "#000"}, "encoding": {}},
    {"mark": {"type": "text", "text": ") current", "x": 214, "y": 146.5, "align": "left", "baseline": "alphabetic", "font": "DejaVu Sans", "fontWeight": "bold", "fontSize": 28, "color": "#000"}, "encoding": {}}
  ]},

  {"width": 633, "height": 247,
   "resolve": {"scale": {"x": "independent", "color": "independent"}},
   "layer": [
    {"encoding": {
       "x": {"field": "t", "type": "quantitative", "scale": {"domain": [-143.5, 591.5], "range": [0, 210], "nice": false, "zero": false}, "axis": null},
       "y": {"field": "i", "type": "quantitative", "scale": {"domain": [-0.216, 0.525], "nice": false, "zero": false}, "axis": null}},
     "layer": [
       {"data": {"name": "tr"}, "transform": [{"filter": "datum.p == 'F' && datum.s != 'control'"}], "mark": {"type": "line", "strokeWidth": 2, "strokeJoin": "round"}, "encoding": {"color": {"field": "s", "type": "nominal", "scale": {"domain": ["100 μM BPA", "10 μM BPA", "control"], "range": ["#e3262a", "#f28e8e", "#111111"]}, "legend": null}}},
       {"data": {"name": "tr"}, "transform": [{"filter": "datum.p == 'F' && datum.s == 'control'"}], "mark": {"type": "line", "strokeWidth": 1.3, "strokeDash": [3, 2], "color": "#111111"}, "encoding": {}},
       {"data": {"name": "sb"}, "transform": [{"filter": "datum.p == 'F'"}], "mark": {"type": "rule", "strokeWidth": 1.5, "color": "#111111"}, "encoding": {"x2": {"field": "t2"}, "y2": {"field": "i2"}}},
       {"data": {"name": "lb"}, "transform": [{"filter": "datum.p == 'F' && datum.k == 'lab'"}], "mark": {"type": "text", "align": "left", "baseline": "alphabetic", "fontSize": 17.8}, "encoding": {"text": {"field": "s"}, "color": {"field": "s", "type": "nominal", "legend": null}}},
       {"data": {"name": "lb"}, "transform": [{"filter": "datum.p == 'F' && datum.k == 'let'"}], "mark": {"type": "text", "align": "left", "baseline": "alphabetic", "fontSize": 22, "fontWeight": "bold", "color": "#000"}, "encoding": {"text": {"field": "s"}}},
       {"data": {"name": "lb"}, "transform": [{"filter": "datum.p == 'F' && datum.k == 'sc'"}], "mark": {"type": "text", "align": "left", "baseline": "alphabetic", "fontSize": 12, "color": "#000"}, "encoding": {"text": {"field": "s"}}}
     ]},
    {"encoding": {
       "x": {"field": "t", "type": "quantitative", "scale": {"domain": [-143.5, 591.5], "range": [210, 420], "nice": false, "zero": false}, "axis": null},
       "y": {"field": "i", "type": "quantitative", "scale": {"domain": [-0.216, 0.525], "nice": false, "zero": false}, "axis": null}},
     "layer": [
       {"data": {"name": "tr"}, "transform": [{"filter": "datum.p == 'G' && datum.s != 'control'"}], "mark": {"type": "line", "strokeWidth": 2, "strokeJoin": "round"}, "encoding": {"color": {"field": "s", "type": "nominal", "scale": {"domain": ["300 μM BPF", "30 μM BPF", "control"], "range": ["#23892a", "#2cbf7f", "#111111"]}, "legend": null}}},
       {"data": {"name": "tr"}, "transform": [{"filter": "datum.p == 'G' && datum.s == 'control'"}], "mark": {"type": "line", "strokeWidth": 1.3, "strokeDash": [3, 2], "color": "#111111"}, "encoding": {}},
       {"data": {"name": "lb"}, "transform": [{"filter": "datum.p == 'G' && datum.k == 'lab'"}], "mark": {"type": "text", "align": "left", "baseline": "alphabetic", "fontSize": 17.8}, "encoding": {"text": {"field": "s"}, "color": {"field": "s", "type": "nominal", "legend": null}}},
       {"data": {"name": "lb"}, "transform": [{"filter": "datum.p == 'G' && datum.k == 'let'"}], "mark": {"type": "text", "align": "left", "baseline": "alphabetic", "fontSize": 22, "fontWeight": "bold", "color": "#000"}, "encoding": {"text": {"field": "s"}}}
     ]},
    {"encoding": {
       "x": {"field": "t", "type": "quantitative", "scale": {"domain": [-143.5, 598.5], "range": [420, 632], "nice": false, "zero": false}, "axis": null},
       "y": {"field": "i", "type": "quantitative", "scale": {"domain": [-0.216, 0.525], "nice": false, "zero": false}, "axis": null}},
     "layer": [
       {"data": {"name": "tr"}, "transform": [{"filter": "datum.p == 'H' && datum.s != 'control'"}], "mark": {"type": "line", "strokeWidth": 2, "strokeJoin": "round"}, "encoding": {"color": {"field": "s", "type": "nominal", "scale": {"domain": ["300 μM BPS", "30 μM BPS", "control"], "range": ["#1d1dc6", "#5f9fe6", "#111111"]}, "legend": null}}},
       {"data": {"name": "tr"}, "transform": [{"filter": "datum.p == 'H' && datum.s == 'control'"}], "mark": {"type": "line", "strokeWidth": 1.3, "strokeDash": [3, 2], "color": "#111111"}, "encoding": {}},
       {"data": {"name": "lb"}, "transform": [{"filter": "datum.p == 'H' && datum.k == 'lab'"}], "mark": {"type": "text", "align": "left", "baseline": "alphabetic", "fontSize": 17.5}, "encoding": {"text": {"field": "s"}, "color": {"field": "s", "type": "nominal", "legend": null}}},
       {"data": {"name": "lb"}, "transform": [{"filter": "datum.p == 'H' && datum.k == 'let'"}], "mark": {"type": "text", "align": "left", "baseline": "alphabetic", "fontSize": 22, "fontWeight": "bold", "color": "#000"}, "encoding": {"text": {"field": "s"}}}
     ]}
   ]},

  {"width": 509, "height": 191,
   "resolve": {"scale": {"x": "independent", "y": "independent", "color": "independent", "fill": "independent", "stroke": "independent"}, "axis": {"x": "independent", "y": "independent"}},
   "layer": [
     {"data": {"name": "cv"}, "transform": [{"filter": "datum.p == 'I'"}], "mark": {"type": "line", "strokeWidth": 2.5, "interpolate": "monotone"},
      "encoding": {
        "x": {"field": "dose", "type": "quantitative", "scale": {"type": "log", "domain": [2, 5000], "range": [77, 384], "nice": false},
              "axis": {"title": "Dose, μM", "values": [2,3,4,5,6,7,8,9,10,20,30,40,50,60,70,80,90,100,200,300,400,500,600,700,800,900,1000,2000,3000,4000,5000], "labelExpr": "datum.value == 10 || datum.value == 100 || datum.value == 1000 ? format(datum.value, 'd') : ''", "tickSize": {"condition": {"test": "datum.value == 10 || datum.value == 100 || datum.value == 1000", "value": 7}, "value": 4}, "labelPadding": 4, "titlePadding": 9, "labelOverlap": false, "labelFlush": false}},
        "y": {"field": "pct", "type": "quantitative", "scale": {"domain": [0, 100], "nice": false},
              "axis": {"title": "Inhibition (%)", "offset": -77, "values": [0,20,40,60,80,100], "tickSize": 7, "labelPadding": 2, "titlePadding": 4}},
        "color": {"field": "s", "type": "nominal", "scale": {"domain": ["BPA", "BPF", "BPS"], "range": ["#e41e1e", "#1e8a1e", "#1c1cdc"]},
                  "legend": {"orient": "none", "legendX": 85.5, "legendY": 1.2, "title": null, "symbolType": "M-1,0H1M-0.23,0A0.23,0.23,0,1,1,0.23,0A0.23,0.23,0,1,1,-0.23,0M-0.085,0A0.085,0.085,0,1,1,0.085,0A0.085,0.085,0,1,1,-0.085,0", "symbolSize": 361, "symbolStrokeWidth": 2.5, "labelFontSize": 16, "labelColor": "#000", "labelOffset": 7, "rowPadding": 0, "padding": 0}}
      }},
     {"data": {"name": "pt"}, "transform": [{"filter": "datum.p == 'I'"}], "mark": {"type": "rule", "strokeWidth": 1.5},
      "encoding": {"x": {"field": "dose", "type": "quantitative", "scale": {"type": "log", "domain": [2, 5000], "range": [77, 384], "nice": false}, "axis": null}, "y": {"field": "lo", "type": "quantitative", "scale": {"domain": [0, 100], "nice": false}, "axis": null}, "y2": {"field": "hi"}, "color": {"field": "s", "type": "nominal", "scale": {"domain": ["BPA", "BPF", "BPS"], "range": ["#e41e1e", "#1e8a1e", "#1c1cdc"]}, "legend": null}}},
     {"data": {"name": "pt"}, "transform": [{"filter": "datum.p == 'I' && datum.hi - datum.lo > 2"}], "mark": {"type": "tick", "orient": "horizontal", "size": 8, "thickness": 1.5},
      "encoding": {"x": {"field": "dose", "type": "quantitative", "scale": {"type": "log", "domain": [2, 5000], "range": [77, 384], "nice": false}, "axis": null}, "y": {"field": "lo", "type": "quantitative", "scale": {"domain": [0, 100], "nice": false}, "axis": null}, "color": {"field": "s", "type": "nominal", "scale": {"domain": ["BPA", "BPF", "BPS"], "range": ["#e41e1e", "#1e8a1e", "#1c1cdc"]}, "legend": null}}},
     {"data": {"name": "pt"}, "transform": [{"filter": "datum.p == 'I' && datum.hi - datum.lo > 2"}], "mark": {"type": "tick", "orient": "horizontal", "size": 8, "thickness": 1.5},
      "encoding": {"x": {"field": "dose", "type": "quantitative", "scale": {"type": "log", "domain": [2, 5000], "range": [77, 384], "nice": false}, "axis": null}, "y": {"field": "hi", "type": "quantitative", "scale": {"domain": [0, 100], "nice": false}, "axis": null}, "color": {"field": "s", "type": "nominal", "scale": {"domain": ["BPA", "BPF", "BPS"], "range": ["#e41e1e", "#1e8a1e", "#1c1cdc"]}, "legend": null}}},
     {"data": {"name": "pt"}, "transform": [{"filter": "datum.p == 'I'"}], "mark": {"type": "point", "filled": true, "shape": "circle", "size": 42, "opacity": 1},
      "encoding": {"x": {"field": "dose", "type": "quantitative", "scale": {"type": "log", "domain": [2, 5000], "range": [77, 384], "nice": false}, "axis": null}, "y": {"field": "m", "type": "quantitative", "scale": {"domain": [0, 100], "nice": false}, "axis": null}, "color": {"field": "s", "type": "nominal", "scale": {"domain": ["BPA", "BPF", "BPS"], "range": ["#e41e1e", "#1e8a1e", "#1c1cdc"]}, "legend": null}}},
     {"data": {"values": [{"dose": 0.436, "pct": 97.5}]}, "mark": {"type": "text", "text": "I", "align": "left", "baseline": "alphabetic", "fontSize": 20, "fontWeight": "bold", "color": "#000"},
      "encoding": {"x": {"field": "dose", "type": "quantitative", "scale": {"type": "log", "domain": [2, 5000], "range": [77, 384], "nice": false}, "axis": null}, "y": {"field": "pct", "type": "quantitative", "scale": {"domain": [0, 100], "nice": false}, "axis": null}}},
     {"data": {"name": "ic"}, "transform": [{"filter": "datum.p == 'J'"}], "mark": {"type": "bar", "strokeWidth": 2},
      "encoding": {
        "x": {"field": "c", "type": "nominal", "sort": null, "scale": {"domain": ["BPA", "BPF", "BPS"], "range": [407, 509], "paddingInner": 0.15, "paddingOuter": 0.1}, "axis": {"orient": "bottom", "title": null, "labelAngle": 0, "tickSize": 5, "labelPadding": 2, "labelFontSize": 15}},
        "y": {"field": "v", "type": "quantitative", "scale": {"domain": [0, 400], "nice": false}, "axis": {"orient": "right", "title": "IC₅₀, μM", "values": [0,100,200,300,400], "format": "d", "tickSize": 6, "labelPadding": 2, "labelFontSize": 15, "titleFontSize": 16, "titlePadding": 6}},
        "fill": {"field": "c", "type": "nominal", "scale": {"domain": ["BPA", "BPF", "BPS"], "range": ["#f47c7c", "#80c080", "#8080ff"]}, "legend": null},
        "stroke": {"field": "c", "type": "nominal", "scale": {"domain": ["BPA", "BPF", "BPS"], "range": ["#e52222", "#228b22", "#1c1cff"]}, "legend": null}
      }},
     {"data": {"values": [{"c": "BPA", "v": 390}]}, "mark": {"type": "text", "text": "J", "dx": -14.5, "align": "left", "baseline": "alphabetic", "fontSize": 20, "fontWeight": "bold", "color": "#000"},
      "encoding": {"x": {"field": "c", "type": "nominal", "scale": {"domain": ["BPA", "BPF", "BPS"], "range": [407, 509], "paddingInner": 0.15, "paddingOuter": 0.1}, "axis": null}, "y": {"field": "v", "type": "quantitative", "scale": {"domain": [0, 400], "nice": false}, "axis": null}}}
   ]}
]
}
